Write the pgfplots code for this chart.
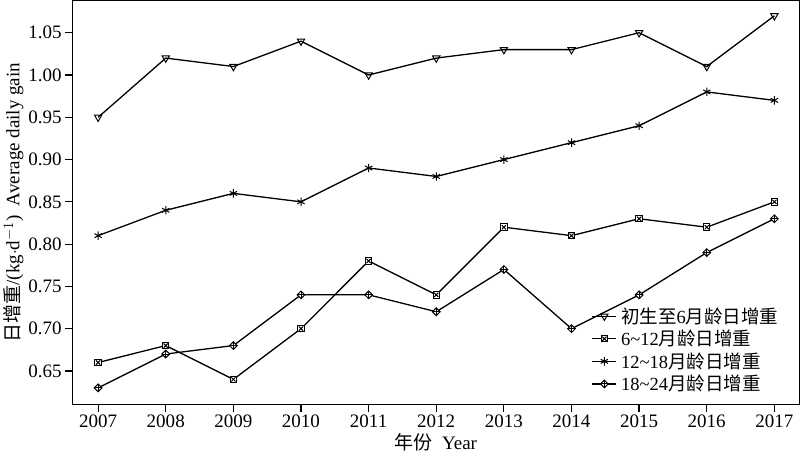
\documentclass[border=0pt]{standalone}
\usepackage{pgfplots}
\pgfplotsset{compat=1.18}
\usepackage{fontspec}
\setmainfont{Liberation Serif}
\newfontfamily\cjk{Noto Sans CJK SC}
\usetikzlibrary{plotmarks}
\pgfdeclareplotmark{sqx}{%
  \pgfpathrectangle{\pgfqpoint{-\pgfplotmarksize}{-\pgfplotmarksize}}{\pgfqpoint{2\pgfplotmarksize}{2\pgfplotmarksize}}%
  \pgfusepathqfillstroke
  \pgfpathmoveto{\pgfqpoint{-.65\pgfplotmarksize}{-.65\pgfplotmarksize}}%
  \pgfpathlineto{\pgfqpoint{.65\pgfplotmarksize}{.65\pgfplotmarksize}}%
  \pgfpathmoveto{\pgfqpoint{-.65\pgfplotmarksize}{.65\pgfplotmarksize}}%
  \pgfpathlineto{\pgfqpoint{.65\pgfplotmarksize}{-.65\pgfplotmarksize}}%
  \pgfusepathqstroke}
\pgfdeclareplotmark{dplus}{%
  \pgfpathmoveto{\pgfqpoint{0pt}{1.2\pgfplotmarksize}}%
  \pgfpathlineto{\pgfqpoint{1.2\pgfplotmarksize}{0pt}}%
  \pgfpathlineto{\pgfqpoint{0pt}{-1.2\pgfplotmarksize}}%
  \pgfpathlineto{\pgfqpoint{-1.2\pgfplotmarksize}{0pt}}%
  \pgfpathclose
  \pgfusepathqfillstroke
  \pgfpathmoveto{\pgfqpoint{0pt}{1.2\pgfplotmarksize}}%
  \pgfpathlineto{\pgfqpoint{0pt}{-1.2\pgfplotmarksize}}%
  \pgfpathmoveto{\pgfqpoint{-1.2\pgfplotmarksize}{0pt}}%
  \pgfpathlineto{\pgfqpoint{1.2\pgfplotmarksize}{0pt}}%
  \pgfusepathqstroke}
\begin{document}
\begin{tikzpicture}
\begin{axis}[
  scale only axis,
  width=727pt, height=404pt,
  xmin=2006.615, xmax=2017.37,
  ymin=0.610, ymax=1.088,
  xtick={2007,...,2017},
  ytick={0.65,0.70,...,1.06},
  tick align=outside,
  xtick pos=bottom, ytick pos=left,
  major tick length=7pt,
  axis line style={line width=1.2pt},
  tick style={line width=1.2pt, black},
  font=\fontsize{19}{22}\selectfont,
  /pgf/number format/assume math mode=true,
  xticklabel style={/pgf/number format/1000 sep=},
  yticklabel style={/pgf/number format/.cd, fixed, fixed zerofill, precision=2},
  xlabel={{\cjk 年份}\ \ Year},
  ylabel={{\cjk 日增重}/(kg$\cdot$d$^{-1}$)\ \ Average daily gain},
  xlabel style={yshift=2pt},
  ylabel style={yshift=-2pt},
  legend style={draw=none, fill=none, at={(0.71,0.02)}, anchor=south west, font=\fontsize{18.5}{22}\selectfont, row sep=1.5pt, nodes={inner xsep=4pt}},
  legend cell align=left,
  legend image code/.code={%
    \draw[#1, mark=none] (0pt,0pt) -- (24pt,0pt);
    \draw[#1, only marks] plot coordinates {(12pt,0pt)};},
]
\addplot[black, line width=1.3pt, mark=triangle, mark options={rotate=180, mark size=4.2pt, fill=white, line width=1pt, solid}] coordinates {
 (2007,0.95) (2008,1.02) (2009,1.01) (2010,1.04) (2011,1.00) (2012,1.02) (2013,1.03) (2014,1.03) (2015,1.05) (2016,1.01) (2017,1.07)};
\addlegendentry{{\cjk 初生至}6{\cjk 月龄日增重}}
\addplot[black, line width=1.3pt, mark=sqx, mark size=3.2pt, mark options={fill=white, line width=1pt, solid}] coordinates {
 (2007,0.66) (2008,0.68) (2009,0.64) (2010,0.70) (2011,0.78) (2012,0.74) (2013,0.82) (2014,0.81) (2015,0.83) (2016,0.82) (2017,0.85)};
\addlegendentry{6\textasciitilde12{\cjk 月龄日增重}}
\addplot[black, line width=1.3pt, mark=asterisk, mark options={mark size=4.2pt, line width=1pt, solid}] coordinates {
 (2007,0.81) (2008,0.84) (2009,0.86) (2010,0.85) (2011,0.89) (2012,0.88) (2013,0.90) (2014,0.92) (2015,0.94) (2016,0.98) (2017,0.97)};
\addlegendentry{12\textasciitilde18{\cjk 月龄日增重}}
\addplot[black, line width=1.3pt, mark=dplus, mark size=3.2pt, mark options={fill=white, line width=1pt, solid}] coordinates {
 (2007,0.63) (2008,0.67) (2009,0.68) (2010,0.74) (2011,0.74) (2012,0.72) (2013,0.77) (2014,0.70) (2015,0.74) (2016,0.79) (2017,0.83)};
\addlegendentry{18\textasciitilde24{\cjk 月龄日增重}}
\end{axis}
\end{tikzpicture}
\end{document}
